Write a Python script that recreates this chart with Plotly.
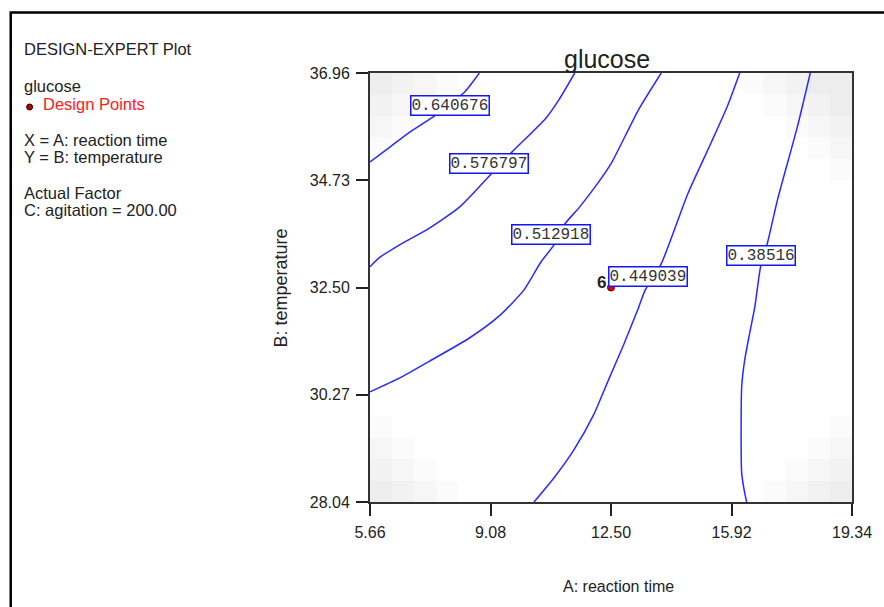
import numpy as np
import plotly.graph_objects as go

# ---------------- data ----------------
x_ticks = [5.66, 9.08, 12.50, 15.92, 19.34]
y_ticks = [28.04, 30.27, 32.50, 34.73, 36.96]
x_range = [5.66, 19.34]
y_range = [28.04, 36.96]

levels = ["0.640676", "0.576797", "0.512918", "0.449039", "0.38516"]

c1_x = [5.66, 6.224, 6.788, 7.493, 7.916, 8.340, 8.763]
c1_y = [35.11, 35.42, 35.73, 36.07, 36.32, 36.56, 36.96]

c2_x = [5.66, 5.942, 6.647, 7.268, 8.199, 9.073, 9.693, 10.652, 11.019, 11.47]
c2_y = [32.93, 33.13, 33.45, 33.70, 34.17, 34.84, 35.32, 36.02, 36.40, 36.96]

c3_x = [5.66, 6.506, 7.352, 8.481, 9.327, 10.032, 10.511, 10.878, 11.188, 11.583,
        12.147, 12.514, 13.276, 13.925]
c3_y = [30.33, 30.62, 30.97, 31.45, 31.91, 32.45, 33.03, 33.38, 33.82, 34.15,
        34.69, 35.09, 36.19, 36.96]

c4_x = [10.314, 10.878, 11.442, 12.006, 12.429, 12.853, 13.276, 13.473, 13.924,
        14.686, 15.335, 15.814, 16.153]
c4_y = [28.04, 28.54, 29.12, 29.85, 30.58, 31.30, 32.07, 32.45, 32.99,
        34.46, 35.50, 36.29, 36.96]

c5_x = [18.155, 17.789, 17.224, 16.942, 16.745, 16.576, 16.435, 16.294, 16.209,
        16.209, 16.294, 16.350]
c5_y = [36.96, 35.84, 34.32, 33.43, 32.93, 32.07, 31.55, 30.99, 30.43,
        28.64, 28.23, 28.04]

label_x = [7.917, 9.045, 10.793, 13.557, 16.745]
label_y = [36.29, 35.07, 33.60, 32.73, 33.17]

design_x = [12.50]
design_y = [32.50]
design_label = ["6"]

# background shading (standard-error tiles), rows from top, 0 = white .. 4 = darkest
shade_rows = [
    "4321000000000000012344",
    "3210000000000000001234",
    "2100000000000000000123",
    "1000000000000000000012",
    "0000000000000000000001",
    "0000000000000000000000",
    "0000000000000000000000",
    "0000000000000000000000",
    "0000000000000000000000",
    "0000000000000000000000",
    "0000000000000000000000",
    "0000000000000000000000",
    "0000000000000000000000",
    "0000000000000000000000",
    "0000000000000000000000",
    "0000000000000000000000",
    "1000000000000000000001",
    "2100000000000000000012",
    "3210000000000000000123",
    "4321000000000000001234",
]

side_text = [
    ("DESIGN-EXPERT Plot", 49, "#222222"),
    ("glucose", 86, "#222222"),
    ("Design Points", 104, "#ff2020"),
    ("X = A: reaction time", 140, "#222222"),
    ("Y = B: temperature", 157, "#222222"),
    ("Actual Factor", 193, "#222222"),
    ("C: agitation = 200.00", 210, "#222222"),
]

# ---------------- layout geometry (pixels) ----------------
W, H = 884, 607
L, R, T, B = 370, 855, 73, 502


def px2paper_x(px):
    return (px - L) / (R - L)


def px2paper_y(py):
    return (B - py) / (B - T)


FONT = "Liberation Sans, Arial, sans-serif"
LINE_BLUE = "#2a2aff"

fig = go.Figure()

# shading heatmap
z = [[int(ch) for ch in row] for row in shade_rows]
ncol = len(shade_rows[0])
nrow = len(shade_rows)
hx = np.linspace(x_range[0], x_range[1], ncol + 1)
hy = np.linspace(y_range[1], y_range[0], nrow + 1)
fig.add_trace(go.Heatmap(
    z=z, x=list(hx), y=list(hy), zmin=0, zmax=4, zsmooth=False,
    colorscale=[[0, "#ffffff"], [1, "#ededed"]], showscale=False, hoverinfo="skip"))

for cx, cy in [(c1_x, c1_y), (c2_x, c2_y), (c3_x, c3_y), (c4_x, c4_y), (c5_x, c5_y)]:
    fig.add_trace(go.Scatter(x=cx, y=cy, mode="lines",
                             line=dict(color=LINE_BLUE, width=1.5, shape="spline", smoothing=0.6),
                             showlegend=False, hoverinfo="skip"))

annotations = []
for lx, ly, txt in zip(label_x, label_y, levels):
    annotations.append(dict(x=lx, y=ly, xref="x", yref="y", text=txt, showarrow=False,
                            font=dict(family="Liberation Mono, monospace", size=16, color="#333333"),
                            bgcolor="white", bordercolor="#1515ff", borderwidth=1.5, borderpad=0))

for dx, dy, t in zip(design_x, design_y, design_label):
    annotations.append(dict(x=dx, y=dy, xref="x", yref="y", text="<b>" + t + "</b>", showarrow=False,
                            xanchor="right", yanchor="middle", xshift=-3, yshift=5,
                            font=dict(family=FONT, size=17, color="#222222")))

for txt, py, col in side_text:
    xpx = 39 if txt == "Design Points" else 20
    annotations.append(dict(x=px2paper_x(xpx), y=px2paper_y(py), xref="paper", yref="paper",
                            text=txt, showarrow=False, xanchor="left", yanchor="middle",
                            font=dict(family=FONT, size=16.5, color=col)))

annotations.append(dict(x=px2paper_x(608), y=px2paper_y(59), xref="paper", yref="paper",
                        text="glucose", showarrow=False, xanchor="center", yanchor="middle",
                        font=dict(family=FONT, size=25, color="#222222")))
annotations.append(dict(x=px2paper_x(620), y=px2paper_y(586), xref="paper", yref="paper",
                        text="A: reaction time", showarrow=False, xanchor="center", yanchor="middle",
                        font=dict(family=FONT, size=16, color="#222222")))
annotations.append(dict(x=px2paper_x(280), y=px2paper_y(288), xref="paper", yref="paper",
                        text="B: temperature", showarrow=False, xanchor="center", yanchor="middle",
                        textangle=-90, font=dict(family=FONT, size=18, color="#222222")))

shapes = [
    dict(type="rect", xref="paper", yref="paper",
         x0=px2paper_x(8.5), x1=px2paper_x(905), y0=px2paper_y(12.5), y1=px2paper_y(640),
         line=dict(color="black", width=2.5), layer="above"),
    dict(type="circle", xref="paper", yref="paper",
         x0=px2paper_x(24.5), x1=px2paper_x(30.5), y0=px2paper_y(104), y1=px2paper_y(110),
         fillcolor="#b00000", line=dict(color="#300000", width=1)),
]

# design point drawn above the contour labels
for dx, dy in zip(design_x, design_y):
    shapes.append(dict(type="circle", xref="x", yref="y", xsizemode="pixel", ysizemode="pixel",
                       xanchor=dx, yanchor=dy, x0=-3.5, x1=3.5, y0=-3.5, y1=3.5,
                       fillcolor="#e00000", line=dict(color="#500000", width=1), layer="above"))

axis_common = dict(showgrid=False, zeroline=False, ticks="outside", ticklen=12, tickwidth=2,
                   tickcolor="#222222", showline=True, linecolor="#333333", linewidth=2,
                   mirror=True, tickfont=dict(family=FONT, size=16, color="#222222"))

fig.update_layout(
    width=W, height=H,
    margin=dict(l=L, r=W - R, t=T, b=H - B, pad=0),
    paper_bgcolor="white", plot_bgcolor="white",
    xaxis=dict(range=x_range, tickvals=x_ticks, ticktext=[f"{v:.2f}" for v in x_ticks],
               ticklabelstandoff=3, **axis_common),
    yaxis=dict(range=y_range, tickvals=y_ticks, ticktext=[f"{v:.2f}" for v in y_ticks],
               ticklabelstandoff=3, **axis_common),
    annotations=annotations, shapes=shapes, showlegend=False,
)

fig.write_html("out.html")
